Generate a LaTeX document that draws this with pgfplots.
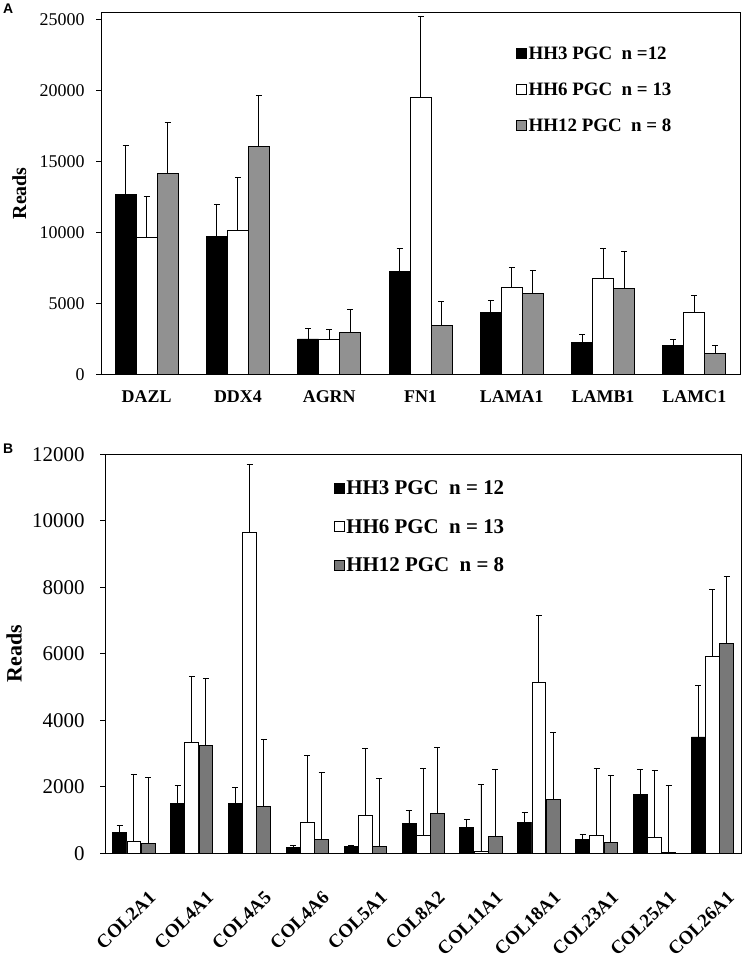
\documentclass[border=0pt]{standalone}
\usepackage{pgfplots}
\pgfplotsset{compat=1.18}
\usepackage{fontspec}
\setmainfont{Liberation Serif}
\newfontfamily\panelfont{Liberation Sans}
\definecolor{greyA}{gray}{0.57}
\definecolor{greyB}{gray}{0.47}
\begin{document}
\begin{tikzpicture}
\path[use as bounding box] (0,0) rectangle (746bp,-966bp);
\node[anchor=north west, inner sep=0pt, font=\panelfont\bfseries\fontsize{14}{16}\selectfont] at (3bp,-4bp) {A};
\node[anchor=north west, inner sep=0pt, font=\panelfont\bfseries\fontsize{14}{16}\selectfont] at (3bp,-444bp) {B};
\pgfplotsset{
  mybars/.style={
    ybar, scale only axis, axis line style={line width=0.8bp},
    ymin=0, xmin=-0.5,
    scaled y ticks=false,
    ytick pos=left, xtick pos=bottom, tick align=outside,
    major tick length=5bp, minor tick length=5bp,
    tick style={black, line width=0.8bp},
    xtick style={draw=none},
    minor x tick style={black, line width=0.8bp},
    /pgf/number format/assume math mode=true,
    /pgf/number format/1000 sep={},
    legend cell align=left,
    legend image code/.code={\draw[##1, line width=0.8bp] (0bp,-4.5bp) rectangle (10bp,5.5bp);},
    error bars/y dir=plus, error bars/y explicit,
    error bars/error bar style={line width=0.9bp, black},
    error bars/error mark options={rotate=90, line width=0.9bp, black, mark size=3bp},
  }
}
% ---------- Panel A ----------
\begin{axis}[mybars,
  at={(101bp,-374.3bp)}, anchor=south west,
  width=639bp, height=362bp,
  xmax=6.5, ymax=25500,
  bar width=0.23,
  ytick={0,5000,10000,15000,20000,25000},
  yticklabel style={font=\fontsize{18}{20}\selectfont, xshift=-8bp},
  xtick={0,...,6},
  xticklabels={DAZL,DDX4,AGRN,FN1,LAMA1,LAMB1,LAMC1},
  xticklabel style={font=\bfseries\fontsize{18}{20}\selectfont, yshift=-8bp},
  minor xtick={-0.5,0.5,...,6.5},
  ylabel={Reads},
  ylabel style={font=\bfseries\fontsize{20}{22}\selectfont, at={(axis description cs:-0.128,0.5)}, anchor=center},
  legend style={draw=none, fill=none, at={(0.645,0.915)}, anchor=north west,
    font=\bfseries\fontsize{19}{21}\selectfont, row sep=19bp,
    nodes={inner sep=1.5bp}},
]
\addplot[fill=black, draw=black, line width=0.8bp, bar shift=-0.23] coordinates {
(0,12700) +- (0,3400)
(1,9700) +- (0,2300)
(2,2490) +- (0,760)
(3,7250) +- (0,1640)
(4,4350) +- (0,830)
(5,2240) +- (0,540)
(6,2020) +- (0,450)
};
\addlegendentry{HH3 PGC\ \ n =12}
\addplot[fill=white, draw=black, line width=0.8bp, bar shift=0] coordinates {
(0,9670) +- (0,2870)
(1,10160) +- (0,3720)
(2,2470) +- (0,660)
(3,19530) +- (0,5650)
(4,6140) +- (0,1390)
(5,6780) +- (0,2110)
(6,4350) +- (0,1230)
};
\addlegendentry{HH6 PGC\ \ n = 13}
\addplot[fill=greyA, draw=black, line width=0.8bp, bar shift=0.23] coordinates {
(0,14160) +- (0,3600)
(1,16020) +- (0,3630)
(2,2960) +- (0,1580)
(3,3410) +- (0,1690)
(4,5670) +- (0,1670)
(5,6020) +- (0,2620)
(6,1460) +- (0,560)
};
\addlegendentry{HH12 PGC\ \ n = 8}
\end{axis}
% ---------- Panel B ----------
\begin{axis}[mybars,
  at={(105bp,-853.3bp)}, anchor=south west,
  width=636.3bp, height=399bp,
  xmax=10.5, ymax=12000,
  bar width=0.24,
  ytick={0,2000,4000,6000,8000,10000,12000},
  yticklabel style={font=\fontsize{21}{23}\selectfont, xshift=-12bp},
  xtick={0,...,10},
  xticklabels={COL2A1,COL4A1,COL4A5,COL4A6,COL5A1,COL8A2,COL11A1,COL18A1,COL23A1,COL25A1,COL26A1},
  xticklabel style={font=\bfseries\fontsize{19}{21}\selectfont, xshift=21bp, yshift=-34bp, rotate=44, anchor=east},
  minor xtick={-0.5,0.5,...,10.5},
  ylabel={Reads},
  ylabel style={font=\bfseries\fontsize{22}{24}\selectfont, at={(axis description cs:-0.143,0.5)}, anchor=center},
  legend style={draw=none, fill=none, at={(0.355,0.942)}, anchor=north west,
    font=\bfseries\fontsize{21}{23}\selectfont, row sep=20bp,
    nodes={inner sep=1.5bp}},
]
\addplot[fill=black, draw=black, line width=0.8bp, bar shift=-0.245] coordinates {
(0,630) +- (0,220)
(1,1490) +- (0,550)
(2,1490) +- (0,480)
(3,170) +- (0,70)
(4,210) +- (0,40)
(5,890) +- (0,400)
(6,770) +- (0,260)
(7,940) +- (0,300)
(8,420) +- (0,160)
(9,1760) +- (0,750)
(10,3500) +- (0,1560)
};
\addlegendentry{HH3 PGC\ \ n = 12}
\addplot[fill=white, draw=black, line width=0.8bp, bar shift=0] coordinates {
(0,370) +- (0,2010)
(1,3330) +- (0,2000)
(2,9640) +- (0,2040)
(3,930) +- (0,2010)
(4,1150) +- (0,2010)
(5,550) +- (0,2010)
(6,70) +- (0,2000)
(7,5140) +- (0,2000)
(8,550) +- (0,2010)
(9,470) +- (0,2010)
(10,5930) +- (0,2010)
};
\addlegendentry{HH6 PGC\ \ n = 13}
\addplot[fill=greyB, draw=black, line width=0.8bp, bar shift=0.245] coordinates {
(0,290) +- (0,2000)
(1,3240) +- (0,2010)
(2,1410) +- (0,2000)
(3,410) +- (0,2010)
(4,210) +- (0,2030)
(5,1200) +- (0,1990)
(6,510) +- (0,2000)
(7,1630) +- (0,2010)
(8,330) +- (0,2000)
(9,20) +- (0,2010)
(10,6320) +- (0,2010)
};
\addlegendentry{HH12 PGC\ \ n = 8}
\end{axis}
\end{tikzpicture}
\end{document}
